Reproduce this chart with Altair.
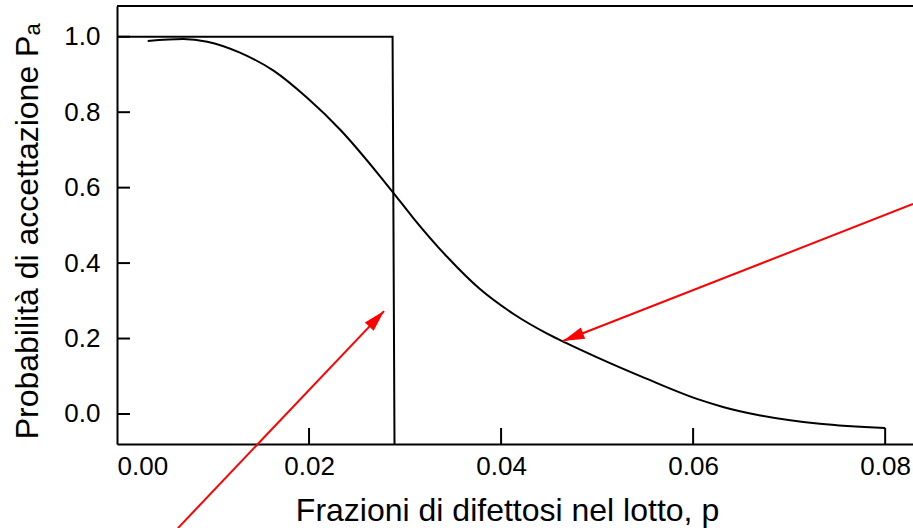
import math
import altair as alt
import pandas as pd

# Operating characteristic (OC) curve of the sampling plan
p_values = [0.0032, 0.0069, 0.0094, 0.0128, 0.0163, 0.0198, 0.0233, 0.0274,
            0.0287, 0.0309, 0.0344, 0.0378, 0.0413, 0.0448, 0.0467, 0.0500,
            0.0550, 0.0604, 0.0632, 0.0670, 0.0732, 0.0800]
pa_values = [0.989, 0.994, 0.987, 0.958, 0.910, 0.838, 0.752, 0.630,
             0.589, 0.518, 0.416, 0.331, 0.265, 0.213, 0.189, 0.150,
             0.095, 0.040, 0.018, -0.004, -0.026, -0.037]

# Ideal OC curve (step at the acceptable fraction defective)
ideal_p = [0.0, 0.0287, 0.0289]
ideal_pa = [1.0, 1.0, -0.0796]

# Annotation arrows: tail -> head
arrow_tail_p = [0.0829, 0.00635]
arrow_tail_pa = [0.5565, -0.3025]
arrow_head_p = [0.04645, 0.02781]
arrow_head_pa = [0.1933, 0.2728]

x_ticks = [0.00, 0.02, 0.04, 0.06, 0.08]
y_ticks = [0.0, 0.2, 0.4, 0.6, 0.8, 1.0]

X_DOMAIN = [0.0, 0.0829]
Y_DOMAIN = [-0.0796, 1.0815]
W, H = 796, 438
FONT = "Liberation Sans"

curve = pd.DataFrame({"p": p_values, "pa": pa_values, "o": range(len(p_values))})
ideal = pd.DataFrame({"p": ideal_p, "pa": ideal_pa, "o": range(len(ideal_p))})
arrows = pd.DataFrame({"p": arrow_tail_p, "pa": arrow_tail_pa,
                       "p2": arrow_head_p, "pa2": arrow_head_pa})

# arrowhead rotation from the on-screen direction of each arrow
sx = W / (X_DOMAIN[1] - X_DOMAIN[0])
sy = H / (Y_DOMAIN[1] - Y_DOMAIN[0])
angles = []
for tx, ty, hx, hy in zip(arrow_tail_p, arrow_tail_pa, arrow_head_p, arrow_head_pa):
    dx = (hx - tx) * sx
    dy = -(hy - ty) * sy
    angles.append(math.degrees(math.atan2(dx, -dy)) % 360)
heads = pd.DataFrame({"p": arrow_head_p, "pa": arrow_head_pa, "ang": angles})

xt = pd.DataFrame({"p": x_ticks[1:]})
yt = pd.DataFrame({"pa": y_ticks})

xs = alt.Scale(domain=X_DOMAIN, nice=False, zero=False)
ys = alt.Scale(domain=Y_DOMAIN, nice=False, zero=False)

x_axis = alt.Axis(
    values=x_ticks, format=".2f", ticks=False, tickSize=0, grid=False,
    domainColor="black", domainWidth=2, labelFontSize=26, labelPadding=9,
    labelColor="black", labelFont=FONT,
    title="Frazioni di difettosi nel lotto, p", titleFontSize=32,
    titleFont=FONT, titleFontWeight="normal", titleColor="black",
    titleX=390, titleY=76, titleBaseline="alphabetic", titleAnchor="middle",
)
y_axis = alt.Axis(
    values=y_ticks, format=".1f", ticks=False, tickSize=0, grid=False,
    domainColor="black", domainWidth=2, labelFontSize=26, labelPadding=17,
    labelColor="black", labelFont=FONT,
    title="Probabilità di accettazione Pₐ", titleFontSize=32,
    titleFont=FONT, titleFontWeight="normal", titleColor="black",
    titleX=-80, titleY=225, titleBaseline="alphabetic", titleAngle=270,
)

oc = alt.Chart(curve).mark_line(
    color="black", strokeWidth=2, interpolate="monotone"
).encode(
    x=alt.X("p:Q", scale=xs, axis=x_axis),
    y=alt.Y("pa:Q", scale=ys, axis=y_axis),
    order="o:Q",
)

ideal_line = alt.Chart(ideal).mark_line(color="black", strokeWidth=2).encode(
    x="p:Q", y="pa:Q", order="o:Q"
)

x_tick_marks = alt.Chart(xt).mark_rule(color="black", strokeWidth=2).encode(
    x="p:Q", y=alt.value(H), y2=alt.value(H - 16)
)
y_tick_marks = alt.Chart(yt).mark_rule(color="black", strokeWidth=2).encode(
    y="pa:Q", x=alt.value(0), x2=alt.value(13)
)

top_frame = alt.Chart(pd.DataFrame({"k": [0]})).mark_rule(
    color="black", strokeWidth=2
).encode(x=alt.value(0), x2=alt.value(W), y=alt.value(0))

arrow_lines = alt.Chart(arrows).mark_rule(
    color="#ff0000", strokeWidth=2, clip=False
).encode(x="p:Q", y="pa:Q", x2="p2:Q", y2="pa2:Q")

arrow_heads = alt.Chart(heads).mark_point(
    shape="M0,0L0.62,2.2L-0.62,2.2Z", filled=True, color="#ff0000",
    opacity=1, size=380, clip=False, strokeWidth=0,
).encode(x="p:Q", y="pa:Q", angle=alt.Angle("ang:Q", scale=None))

chart = alt.layer(
    oc, ideal_line, x_tick_marks, y_tick_marks, top_frame, arrow_lines, arrow_heads
).properties(
    width=W, height=H,
    autosize=alt.AutoSizeParams(type="none"),
    padding={"left": 117, "top": 6, "right": 0, "bottom": 84},
).configure_view(stroke=None).configure(font=FONT, background="white")

chart.save("out.html", embed_options={"renderer": "svg", "actions": False})
